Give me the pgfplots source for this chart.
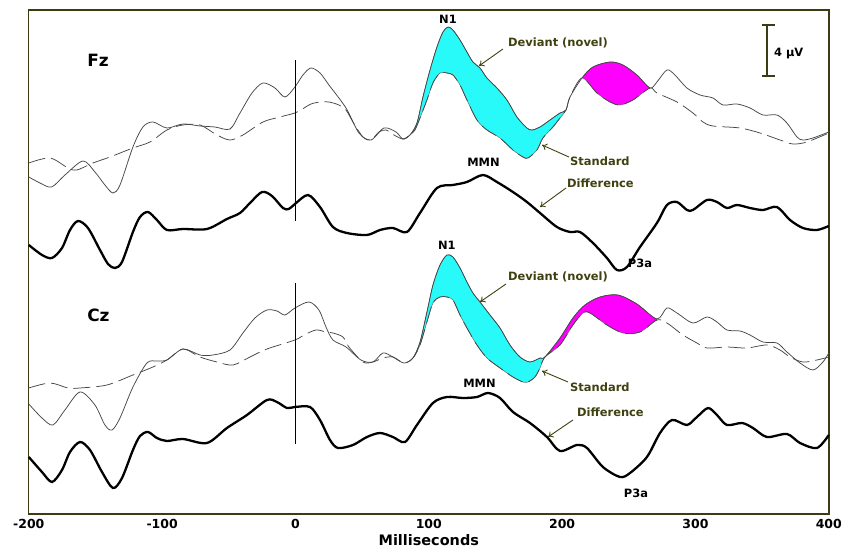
\documentclass[border=0pt]{standalone}
\usepackage{fontspec}
\setmainfont{DejaVu Sans}
\usepackage{pgfplots}
\pgfplotsset{compat=1.18}
\usepgfplotslibrary{fillbetween}
\usetikzlibrary{arrows.meta}
\definecolor{olivetxt}{RGB}{64,64,16}
\definecolor{framecol}{RGB}{60,60,20}
\definecolor{trace}{RGB}{70,70,70}
\definecolor{cyanfill}{RGB}{40,250,250}
\definecolor{magfill}{RGB}{255,0,255}
\tikzset{
 dev/.style={trace, line width=0.75pt, smooth},
 std/.style={trace, line width=0.75pt, smooth, dash pattern=on 17bp off 6bp},
 dif/.style={black, line width=2.3pt, smooth},
 lab/.style={font=\fontsize{11.5}{13}\selectfont\bfseries, inner sep=0pt},
 arr/.style={olivetxt, line width=0.9pt, -{To[length=5pt,width=7pt]}},
}
\begin{document}
\begin{tikzpicture}
\begin{axis}[
 set layers,
 scale only axis, width=800bp, height=504bp,
 xmin=-200, xmax=400, ymin=-514, ymax=-10,
 axis line style={draw=framecol, line width=1.4pt},
 xtick={-200,-100,...,400}, xticklabels={-200,-100,0,100,200,300,400},
 xtick style={draw=none}, ytick=\empty,
 xticklabel style={font=\fontsize{12.5}{14}\selectfont\bfseries, anchor=center, yshift=-9.5bp, inner sep=0pt},
 xlabel={Milliseconds},
 xlabel style={font=\fontsize{14.5}{16}\selectfont\bfseries, at={(axis description cs:0.5,-0.051)}, anchor=center, inner sep=0pt},
 clip=false,
]
% ---------------- Fz ----------------
\addplot[dev, name path=devFz] coordinates {
(-200,-177) (-191.6,-183) (-182.9,-187) (-172.9,-175) (-159.4,-161) (-150.4,-172) (-142.9,-185) (-136.9,-193) (-131.6,-185) (-121.9,-147) (-114.4,-127) (-106.9,-122) (-96.4,-128) (-84.4,-124) (-71.6,-126) (-60.4,-127) (-49.1,-129) (-41.6,-113) (-32.6,-93) (-24.4,-83) (-15.4,-88) (-7.9,-97) (-0.4,-87) (5.6,-75) (11.6,-68) (18.4,-73) (25.1,-85) (37.9,-108) (47.6,-133) (56.6,-140) (66.4,-128) (75.4,-132) (80.6,-139) (85.9,-135) (91.1,-123) (95.6,-97) (100.9,-70) (106.1,-47) (110.6,-32) (114.4,-27) (118.1,-30) (123.4,-40) (128.6,-52) (133.1,-62) (138.4,-68) (143.6,-78) (151.1,-88) (158.6,-100) (166.1,-117) (173.6,-128) (177.4,-130) (183.4,-127) (190.9,-120) (198.4,-113) (202.9,-110) (205.9,-97) (214.9,-78) (223.1,-67) (235.9,-62) (245.6,-65) (256.1,-75) (265.9,-88) (271.1,-82) (278.6,-70) (284.6,-75) (293.6,-88) (303.4,-95) (313.1,-98) (320.6,-105) (331.1,-104) (340.9,-108) (350.6,-115) (361.1,-115) (368.6,-123) (376.1,-137) (380.6,-140) (388.1,-138) (400,-132)};
\addplot[std, name path=stdFz] coordinates {
(-200,-163) (-184.1,-158) (-170.6,-168) (-163.9,-170) (-151.9,-163) (-139.1,-157) (-121.9,-148) (-109.1,-142) (-96.4,-130) (-84.4,-125) (-71.6,-125) (-58.9,-135) (-49.1,-140) (-39.4,-135) (-24.4,-122) (-11.6,-117) (-0.4,-113) (4.1,-110) (11.6,-104) (19.1,-102) (25.1,-102) (32.6,-105) (37.9,-110) (43.1,-122) (50.6,-137) (56.6,-140) (62.6,-132) (67.9,-130) (73.9,-135) (80.6,-139) (85.9,-135) (89.6,-130) (93.4,-118) (98.6,-100) (103.1,-83) (108.4,-73) (113.6,-73) (118.1,-75) (123.4,-85) (128.6,-100) (136.1,-120) (143.6,-130) (153.4,-138) (163.1,-150) (170.6,-157) (174.4,-158) (181.1,-150) (185.6,-138) (193.1,-127) (198.4,-118) (202.9,-110) (205.9,-97) (214.9,-78) (226.1,-93) (235.9,-102) (243.4,-105) (253.1,-100) (265.9,-88) (271.1,-93) (286.1,-102) (298.1,-113) (305.6,-122) (313.1,-126) (333.4,-128) (348.4,-133) (363.4,-140) (373.1,-144) (383.6,-142) (400,-133)};
\addplot[dif] coordinates {
(-200,-245) (-190.1,-255) (-182.6,-258) (-175.1,-248) (-169.1,-230) (-163.1,-221) (-155.6,-228) (-146.6,-250) (-140.6,-264) (-135.4,-268) (-130.1,-262) (-121.9,-232) (-116.6,-217) (-110.6,-212) (-103.9,-220) (-96.4,-230) (-84.4,-229) (-66.4,-229) (-51.4,-219) (-41.6,-213) (-34.1,-203) (-25.1,-192) (-17.6,-196) (-9.4,-208) (-5,-209) (-0.4,-204) (9.4,-195) (18.4,-207) (28.1,-227) (38.6,-233) (53.6,-235) (63.4,-230) (73.1,-228) (83.6,-232) (93.4,-213) (106.1,-188) (118.1,-185) (128.6,-182) (140.6,-175) (151.1,-182) (163.1,-192) (173.6,-202) (183.4,-213) (196.1,-227) (205.9,-232) (213.4,-232) (223.1,-243) (233.6,-258) (241.1,-270) (248.6,-267) (258.4,-247) (271.1,-223) (278.6,-205) (286.1,-202) (293.6,-210) (298.1,-210) (308.6,-200) (316.1,-202) (323.6,-208) (331.1,-205) (340.9,-208) (350.6,-210) (361.1,-207) (370.9,-220) (380.6,-228) (391.1,-230) (400,-226)};
\addplot[fill=cyanfill, draw=black!65, line width=0.4pt] fill between[of=devFz and stdFz, soft clip={domain=80.6:202.9}];
\addplot[fill=magfill, draw=black!65, line width=0.4pt] fill between[of=devFz and stdFz, soft clip={domain=214.9:265.9}];
\addplot[black, line width=1.9pt] coordinates {(0,-60) (0,-221)};
% ---------------- Cz ----------------
\addplot[dev, name path=devCz] coordinates {
(-200,-404) (-190.1,-418) (-181.9,-425) (-172.9,-410) (-161.6,-392) (-150.4,-405) (-142.9,-425) (-137.6,-430) (-131.6,-418) (-121.9,-387) (-111.4,-363) (-103.9,-361) (-96.4,-360) (-84.4,-349) (-71.6,-355) (-61.9,-355) (-49.1,-350) (-39.4,-333) (-30.4,-318) (-21.4,-310) (-13.9,-311) (-7.9,-315) (-0.4,-308) (10.1,-302) (17.6,-310) (22.9,-327) (28.1,-340) (37.9,-347) (49.1,-360) (58.1,-362) (65.6,-353) (73.1,-357) (81.4,-363) (88.1,-358) (93.4,-342) (98.6,-312) (103.1,-285) (108.4,-265) (113.6,-255) (118.1,-257) (123.4,-268) (128.6,-282) (133.1,-293) (138.4,-302) (145.9,-315) (153.4,-328) (160.9,-345) (168.4,-357) (175.9,-362) (183.4,-358) (187.1,-357) (198.4,-338) (208.1,-318) (217.1,-305) (228.4,-297) (241.9,-295) (256.1,-304) (271.1,-319) (278.6,-308) (286.1,-313) (298.1,-323) (308.6,-317) (316.1,-322) (323.6,-330) (333.4,-331) (340.9,-335) (350.6,-342) (361.1,-343) (368.6,-352) (378.4,-363) (388.1,-370) (395.6,-362) (400,-353)};
\addplot[std, name path=stdCz] coordinates {
(-200,-388) (-184.1,-383) (-170.6,-388) (-161.6,-388) (-141.4,-385) (-121.9,-375) (-106.9,-367) (-96.4,-360) (-84.4,-349) (-71.6,-357) (-58.9,-362) (-46.9,-365) (-34.1,-357) (-21.4,-349) (-0.4,-340) (6.4,-335) (15.4,-330) (22.9,-332) (28.1,-333) (35.6,-337) (40.1,-347) (50.6,-362) (58.1,-362) (65.6,-358) (73.1,-357) (81.4,-363) (88.1,-358) (93.4,-345) (98.6,-322) (103.1,-303) (108.4,-297) (113.6,-297) (118.1,-300) (123.4,-315) (128.6,-328) (136.1,-345) (143.6,-358) (153.4,-368) (163.1,-377) (170.6,-382) (174.4,-382) (179.6,-377) (183.4,-368) (187.1,-357) (198.4,-345) (208.1,-325) (215.6,-313) (220.9,-313) (233.6,-325) (245.6,-333) (258.4,-332) (271.1,-320) (278.6,-323) (290.6,-335) (301.1,-343) (308.6,-348) (323.6,-347) (338.6,-348) (353.6,-345) (363.4,-350) (370.9,-357) (380.6,-362) (391.1,-360) (400,-357)};
\addplot[dif] coordinates {
(-200,-457) (-190.1,-472) (-182.6,-482) (-175.1,-470) (-169.1,-452) (-161.6,-442) (-154.1,-450) (-145.1,-472) (-136.9,-488) (-130.1,-478) (-121.9,-450) (-116.6,-436) (-110.6,-432) (-103.9,-438) (-96.4,-441) (-84.4,-439) (-66.4,-443) (-51.4,-428) (-36.4,-415) (-21.4,-400) (-13.9,-402) (-6.4,-408) (-0.4,-407) (10.9,-407) (18.4,-420) (25.9,-440) (31.9,-448) (43.1,-445) (53.6,-437) (63.4,-433) (73.1,-437) (82.1,-442) (91.1,-425) (103.1,-403) (113.6,-397) (125.6,-398) (136.1,-397) (144.4,-393) (153.4,-398) (163.1,-412) (175.9,-423) (188.6,-437) (198.4,-451) (211.1,-445) (218.6,-448) (230.6,-467) (243.4,-477) (250.9,-473) (263.6,-457) (273.4,-433) (282.4,-420) (293.6,-425) (301.1,-417) (309.4,-408) (316.1,-415) (323.6,-425) (334.9,-423) (343.1,-428) (353.6,-437) (368.6,-434) (378.4,-443) (391.1,-448) (400,-435)};
\addplot[fill=cyanfill, draw=black!65, line width=0.4pt] fill between[of=devCz and stdCz, soft clip={domain=88.1:187.1}];
\addplot[fill=magfill, draw=black!65, line width=0.4pt] fill between[of=devCz and stdCz, soft clip={domain=187.1:271.1}];
\addplot[black, line width=1.9pt] coordinates {(0,-283) (0,-444)};
% ---------------- annotations ----------------
\node[font=\fontsize{17}{18}\selectfont\bfseries, inner sep=0pt] at (axis cs:-148.1,-60) {Fz};
\node[font=\fontsize{17}{18}\selectfont\bfseries, inner sep=0pt] at (axis cs:-147.8,-315) {Cz};
\node[lab] at (axis cs:114.4,-19.5) {N1};
\node[lab] at (axis cs:113.6,-245.5) {N1};
\node[lab] at (axis cs:141,-162) {MMN};
\node[lab] at (axis cs:138,-383) {MMN};
\node[lab] at (axis cs:258.4,-263) {P3a};
\node[lab] at (axis cs:255.4,-493) {P3a};
\node[lab, text=olivetxt, anchor=west] at (axis cs:159.4,-42.7) {Deviant (novel)};
\node[lab, text=olivetxt, anchor=west] at (axis cs:159.4,-277) {Deviant (novel)};
\node[lab, text=olivetxt, anchor=west] at (axis cs:205.9,-161) {Standard};
\node[lab, text=olivetxt, anchor=west] at (axis cs:205.9,-387.7) {Standard};
\node[lab, text=olivetxt, anchor=west] at (axis cs:203.6,-183) {Difference};
\node[lab, text=olivetxt, anchor=west] at (axis cs:211.1,-412.7) {Difference};
\draw[arr] (axis cs:155.6,-49) -- (axis cs:137.6,-66);
\draw[arr] (axis cs:157.9,-284) -- (axis cs:138.4,-302);
\draw[arr] (axis cs:205.1,-157) -- (axis cs:184.9,-145);
\draw[arr] (axis cs:204.4,-382) -- (axis cs:184.9,-371);
\draw[arr] (axis cs:202.9,-188) -- (axis cs:183.4,-207);
\draw[arr] (axis cs:208.1,-420) -- (axis cs:189.4,-437);
% scale bar
\draw[framecol, line width=1.3pt] (axis cs:353.6,-25) -- (axis cs:353.6,-76);
\draw[framecol, line width=1.3pt] (axis cs:349.9,-25) -- (axis cs:359.6,-25);
\draw[framecol, line width=1.3pt] (axis cs:349.9,-76) -- (axis cs:359.6,-76);
\node[font=\fontsize{11.5}{13}\selectfont\bfseries, inner sep=0pt, anchor=west] at (axis cs:358.8,-54) {4 μV};
\coordinate (BL) at (axis cs:-221.6,-549);
\coordinate (TR) at (axis cs:420.4,0);
\end{axis}
\pgfresetboundingbox
\path (BL) rectangle (TR);
\end{tikzpicture}
\end{document}
